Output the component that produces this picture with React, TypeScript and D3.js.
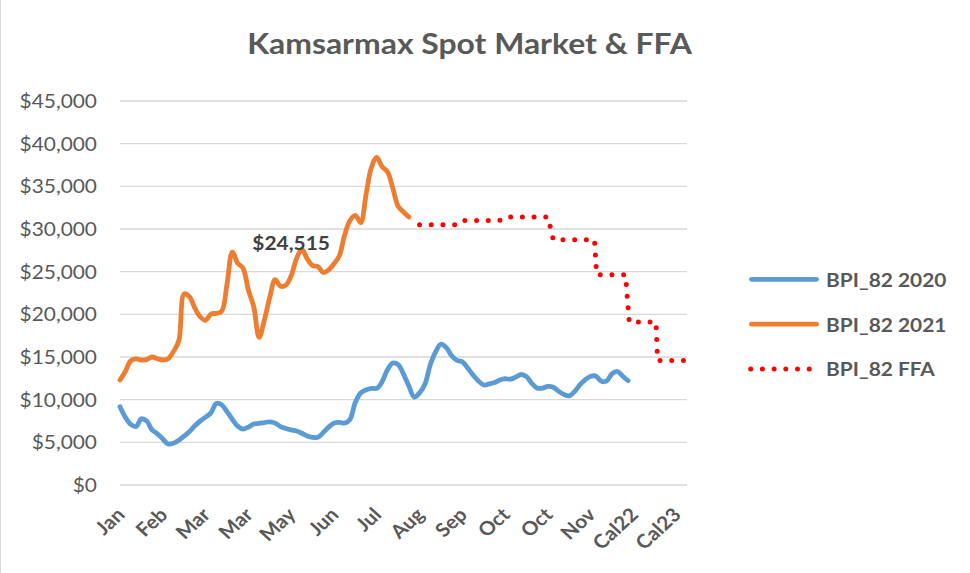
import React from "react";
import * as d3 from "d3";

// ---- data ----
const tickLabels = ["Jan", "Feb", "Mar", "Mar", "May", "Jun", "Jul", "Aug", "Sep", "Oct", "Oct", "Nov", "Cal22", "Cal23"];
const labelEvery = 8;
const lastIndex = 106;
const yTicks = [0, 5000, 10000, 15000, 20000, 25000, 30000, 35000, 40000, 45000];
const seriesNames = ["BPI_82 2020", "BPI_82 2021", "BPI_82 FFA"];

const bpi2020 = [
  9180, 7950, 7100, 6850, 7750, 7500, 6450, 6000, 5400, 4800,
  4900, 5250, 5730, 6280, 6950, 7500, 7950, 8450, 9550, 9400,
  8600, 7700, 6900, 6550, 6780, 7150, 7220, 7320, 7400, 7250,
  6850, 6620, 6450, 6330, 6060, 5750, 5590, 5600, 6150, 6780,
  7250, 7350, 7250, 7700, 9700, 10780, 11150, 11330, 11330, 12100,
  13500, 14300, 14100, 13000, 11600, 10300, 10800, 11800, 14060, 15600,
  16500, 16100, 15150, 14600, 14450, 13700, 12900, 12200, 11720, 11850,
  12000, 12300, 12450, 12400, 12650, 12950, 12700, 11900, 11350, 11350,
  11550, 11450, 10980, 10600, 10450, 10950, 11750, 12350, 12750, 12750,
  12150, 12200, 13050, 13300, 12750, 12220,
];

const bpi2021 = [
  12300, 13300, 14550, 14780, 14650, 14700, 15000, 14800, 14650, 14800,
  15650, 16900, 22400, 22050, 20720, 19700, 19300, 20030, 20120, 20350,
  23500, 27300, 26000, 25400, 22850, 20900, 17300, 19350, 22000, 24070,
  23290, 23420, 24515, 26530, 27600, 26500, 25700, 25600, 24900, 25200,
  25930, 26850, 29300, 31000, 31600, 30740, 34050, 37200, 38400, 37300,
  36700, 34800, 32650, 32000, 31400,
];

const ffaPos = [56, 63, 64, 71, 72, 80, 81, 88.7, 89.1, 94.5, 95.2, 100.2, 100.5, 106];
const ffaVal = [30500, 30500, 31000, 31000, 31400, 31400, 28750, 28750, 24650, 24650, 19100, 19100, 14600, 14600];

const labelIndex = 32;

// ---- style ----
const W = 970;
const H = 573;
const FONT = "Lato, 'Open Sans', sans-serif";
const GRAY = "#595959";
const BLUE = "#5B9BD5";
const ORANGE = "#ED7D31";
const RED = "#FF0000";

export default function App() {
  const x = d3.scaleLinear().domain([0, lastIndex]).range([120, 687]);
  const y = d3.scaleLinear().domain([0, 45000]).range([485, 101]);

  const smooth = d3
    .line<number>()
    .x((_, i) => x(i))
    .y((d) => y(d))
    .curve(d3.curveCatmullRom.alpha(0.5));

  const ffaLine = d3
    .line<number>()
    .x((_, i) => x(ffaPos[i]))
    .y((d) => y(d))
    .curve(d3.curveLinear);

  const fmt = d3.format("$,.0f");
  const sx = 1.1;

  const legendRows = [
    { name: seriesNames[0], color: BLUE, dotted: false },
    { name: seriesNames[1], color: ORANGE, dotted: false },
    { name: seriesNames[2], color: RED, dotted: true },
  ];

  return (
    <svg
      width={W}
      height={H}
      viewBox={`0 0 ${W} ${H}`}
      style={{ position: "absolute", left: 0, top: 0, display: "block", background: "#fff" }}
      fontFamily={FONT}
    >
      <rect x={0} y={0} width={W} height={H} fill="#fff" />
      <line x1={0.5} x2={0.5} y1={0} y2={H} stroke="#d9d9d9" strokeWidth={1} />

      {/* title */}
      <text
        transform={`translate(469.5,53.5) scale(${sx},1)`}
        textAnchor="middle"
        fontSize={29}
        fontWeight="bold"
        fill={GRAY}
      >
        Kamsarmax Spot Market &amp; FFA
      </text>

      {/* gridlines + y labels */}
      {yTicks.map((t) => (
        <g key={t}>
          <line x1={120} x2={687} y1={y(t)} y2={y(t)} stroke="#d9d9d9" strokeWidth={1.3} />
          <text
            transform={`translate(97,${y(t) + 7}) scale(${sx},1)`}
            textAnchor="end"
            fontSize={19}
            fill={GRAY}
          >
            {fmt(t)}
          </text>
        </g>
      ))}

      {/* x labels */}
      {tickLabels.map((lab, k) => (
        <text
          key={k}
          transform={`translate(${x(k * labelEvery) + 6},${516}) scale(${sx},1) rotate(-45)`}
          textAnchor="end"
          fontSize={19}
          fontWeight="bold"
          fill={GRAY}
        >
          {lab}
        </text>
      ))}

      {/* series */}
      <path d={smooth(bpi2020) || ""} fill="none" stroke={BLUE} strokeWidth={4.8} strokeLinecap="round" strokeLinejoin="round" />
      <path d={smooth(bpi2021) || ""} fill="none" stroke={ORANGE} strokeWidth={4.8} strokeLinecap="round" strokeLinejoin="round" />
      <path
        d={ffaLine(ffaVal) || ""}
        fill="none"
        stroke={RED}
        strokeWidth={5}
        strokeLinecap="round"
        strokeDasharray="0 11.7"
      />

      {/* data label */}
      <text
        transform={`translate(${x(labelIndex)},${y(bpi2021[labelIndex]) - 26}) scale(${sx},1)`}
        textAnchor="middle"
        fontSize={19}
        fontWeight="bold"
        fill="#404040"
      >
        {fmt(bpi2021[labelIndex])}
      </text>

      {/* legend */}
      {legendRows.map((r, k) => {
        const cy = 279.3 + k * 44.9;
        return (
          <g key={r.name}>
            {r.dotted ? (
              <line x1={750.7} x2={810} y1={cy} y2={cy} stroke={r.color} strokeWidth={5} strokeLinecap="round" strokeDasharray="0 11.7" />
            ) : (
              <line x1={751.5} x2={816.5} y1={cy} y2={cy} stroke={r.color} strokeWidth={4.8} strokeLinecap="round" />
            )}
            <text
              transform={`translate(826,${cy + 7.3}) scale(${sx},1)`}
              fontSize={19}
              fontWeight="bold"
              fill={GRAY}
            >
              {r.name}
            </text>
          </g>
        );
      })}
    </svg>
  );
}
